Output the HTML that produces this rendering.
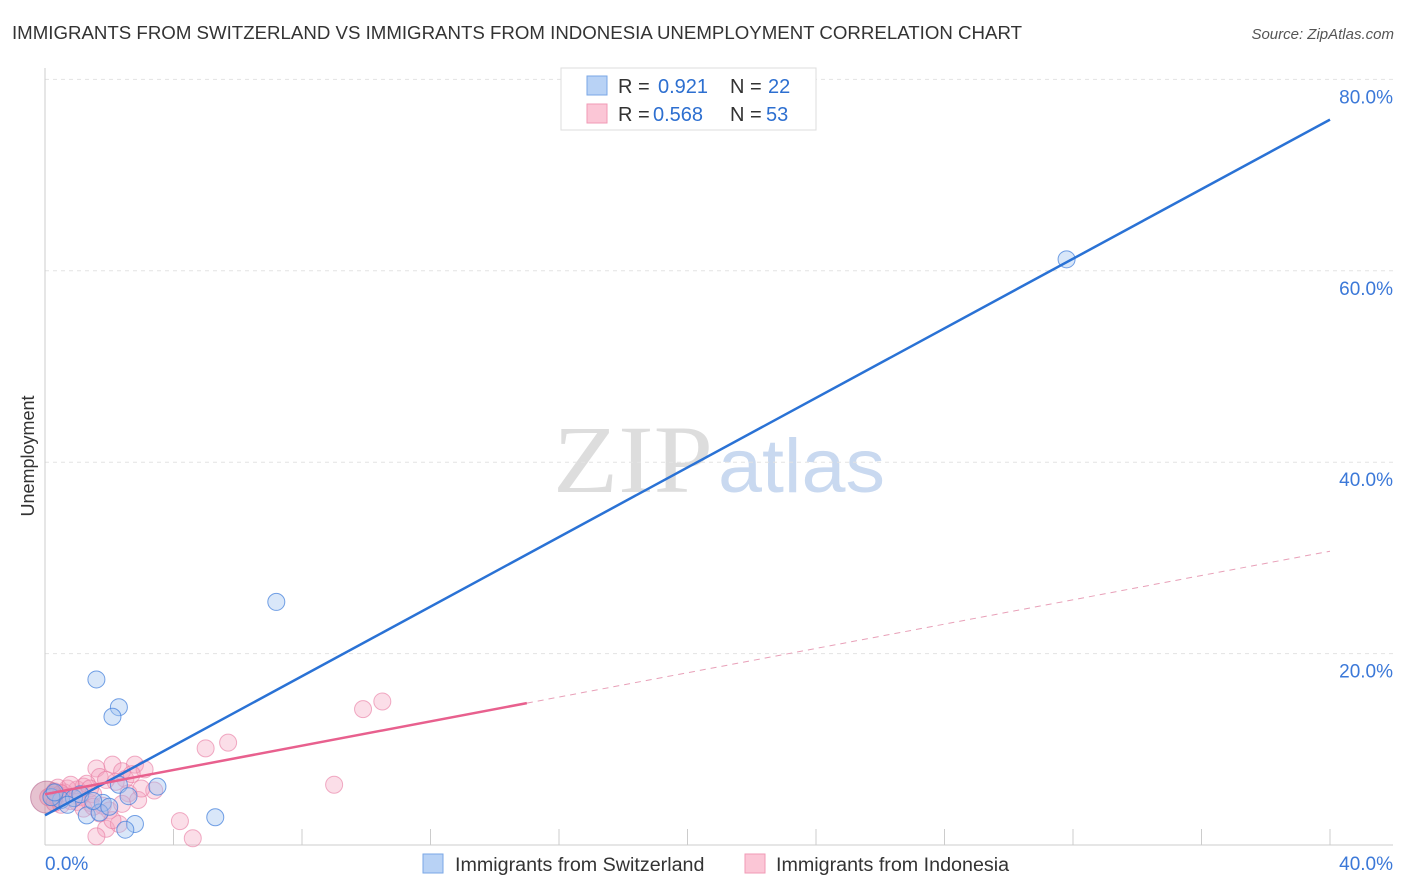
<!DOCTYPE html>
<html><head><meta charset="utf-8"><style>
body{margin:0;background:#fff;font-family:"Liberation Sans",sans-serif;}
svg{display:block}
</style></head><body>
<svg id="c" width="1406" height="892">
<text x="12" y="39" font-size="18" fill="#333" textLength="1010" lengthAdjust="spacingAndGlyphs">IMMIGRANTS FROM SWITZERLAND VS IMMIGRANTS FROM INDONESIA UNEMPLOYMENT CORRELATION CHART</text>
<text x="1394" y="39" font-size="15" fill="#555" text-anchor="end" font-style="italic">Source: ZipAtlas.com</text>
<text x="34" y="456" font-size="18" fill="#333" text-anchor="middle" transform="rotate(-90 34 456)">Unemployment</text>
<text x="553" y="492" font-size="96" fill="#ddd" font-family="Liberation Serif,serif" textLength="160" lengthAdjust="spacingAndGlyphs">ZIP</text>
<text x="718" y="492" font-size="76" fill="#c9d9f0" textLength="167" lengthAdjust="spacingAndGlyphs">atlas</text>
<g id="grid"></g><g id="pts"></g><g id="lines"></g>
<g>
<rect x="561" y="68" width="255" height="62" fill="#fff" stroke="#ddd"/>
<rect x="587" y="76" width="20" height="19" fill="#b8d2f5" stroke="#7aa7e6"/>
<rect x="587" y="104" width="20" height="19" fill="#fbc6d6" stroke="#f09ab6"/>
<text x="618" y="93" font-size="20" fill="#333">R = </text><text x="658" y="93" font-size="20" fill="#2d6fd0">0.921</text>
<text x="730" y="93" font-size="20" fill="#333">N = </text><text x="768" y="93" font-size="20" fill="#2d6fd0">22</text>
<text x="618" y="121" font-size="20" fill="#333">R = </text><text x="653" y="121" font-size="20" fill="#2d6fd0">0.568</text>
<text x="730" y="121" font-size="20" fill="#333">N = </text><text x="766" y="121" font-size="20" fill="#2d6fd0">53</text>
</g>
<g>
<rect x="423" y="854" width="20" height="19" fill="#b8d2f5" stroke="#7aa7e6"/>
<text x="455" y="871" font-size="19.7" fill="#333">Immigrants from Switzerland</text>
<rect x="745" y="854" width="20" height="19" fill="#fbc6d6" stroke="#f09ab6"/>
<text x="776" y="871" font-size="19.7" fill="#333">Immigrants from Indonesia</text>
</g>
</svg>
<script>
const yTicks=[20,40,60,80];
const xTickLabels=["0.0%","40.0%"];
const blueX=[31.8,7.2,1.6,2.3,2.1,3.5,5.3,2.8,2.5,2.3,1.8,1.3,1.7,2.6,0.5,0.9,0.2,1.1,2.0,1.5,0.3,0.7];
const blueY=[61.2,25.4,17.3,14.4,13.4,6.1,2.9,2.2,1.6,6.3,4.4,3.1,3.4,5.1,4.7,4.9,5.0,5.3,4.0,4.6,5.5,4.2];
const pinkX=[9.0,9.9,10.5,5.0,5.7,4.2,4.6,2.8,2.1,1.6,2.4,3.4,1.7,2.5,1.9,1.6,2.3,1.1,0.2,0.4,0.6,0.8,1.0,1.2,1.4,0.3,0.5,0.7,0.9,1.3,1.5,1.8,2.0,2.2,2.6,2.9,3.1,0.1,0.4,0.6,1.0,1.2,0.8,1.4,1.7,2.1,0.3,0.5,2.7,1.9,1.5,2.4,3.0];
const pinkY=[6.3,14.2,15.0,10.1,10.7,2.5,0.7,8.4,8.4,8.0,7.7,5.7,7.1,6.9,1.7,0.9,2.2,5.0,5.2,4.8,5.5,4.6,5.8,6.1,4.4,5.6,4.2,5.9,4.9,6.4,5.3,4.1,3.6,6.6,5.4,4.7,7.9,5.0,6.0,5.1,4.5,3.8,6.3,5.9,3.3,2.6,4.4,5.4,7.4,6.8,4.0,4.3,5.9];
const blueLine=[3.1,75.8];
const pinkLine=[5.3,0.635];
const X=v=>45+v*32.125, Y=v=>845-v*9.57;
const NS="http://www.w3.org/2000/svg";
function mk(t,a,p){const e=document.createElementNS(NS,t);for(const k in a)e.setAttribute(k,a[k]);p.appendChild(e);return e;}
const svg=document.getElementById('c'),grid=document.getElementById('grid'),pts=document.getElementById('pts'),lines=document.getElementById('lines');
yTicks.forEach(t=>{
 const l=mk('line',{x1:45,x2:1393,y1:Y(t),y2:Y(t),stroke:'#e3e3e3','stroke-dasharray':'4,4'},grid);
 
 
 const tx=mk('text',{x:1393,y:Y(t)+24,'font-size':19,fill:'#3b78d8','text-anchor':'end'},grid);
 tx.textContent=t.toFixed(1)+'%';
 
 
});
mk('line',{x1:45,x2:45,y1:68,y2:845,stroke:'#ccc'},grid);
mk('line',{x1:45,x2:1393,y1:845,y2:845,stroke:'#ccc'},grid);
for(let i=1;i<=10;i++){mk('line',{x1:X(i*4),x2:X(i*4),y1:829,y2:845,stroke:'#ccc'},grid);}
[[0,xTickLabels[0],'start'],[40,xTickLabels[1],'end']].forEach(([v,s,a])=>{
 const tx=mk('text',{x:a=='start'?X(v):1393,y:870,'font-size':19,fill:'#3b78d8','text-anchor':a},grid);
 tx.textContent=s;
 
 
});
pinkX.forEach((x,i)=>{
 const c=mk('circle',{cx:X(x),cy:Y(pinkY[i]),r:8.5,fill:'rgba(244,160,188,0.35)',stroke:'rgba(232,120,160,0.6)'},pts);
 
 
});
const big=mk('circle',{cx:X(0.05),cy:Y(5.0),r:16,fill:'rgba(200,120,150,0.45)',stroke:'rgba(180,100,140,0.6)'},pts);


blueX.forEach((x,i)=>{
 const c=mk('circle',{cx:X(x),cy:Y(blueY[i]),r:8.5,fill:'rgba(160,195,240,0.4)',stroke:'rgba(70,130,220,0.75)'},pts);
 
 
});
const bl=mk('line',{x1:X(0),y1:Y(blueLine[0]),x2:X(40),y2:Y(blueLine[1]),stroke:'#2a72d5','stroke-width':2.5},lines);


const pl=mk('line',{x1:X(0),y1:Y(pinkLine[0]),x2:X(15),y2:Y(pinkLine[0]+15*pinkLine[1]),stroke:'#e8608e','stroke-width':2.5},lines);


const pd=mk('line',{x1:X(15),y1:Y(pinkLine[0]+15*pinkLine[1]),x2:X(40),y2:Y(pinkLine[0]+40*pinkLine[1]),stroke:'#e8a0b8','stroke-width':1,'stroke-dasharray':'6,5'},lines);


</script>
</body></html>
